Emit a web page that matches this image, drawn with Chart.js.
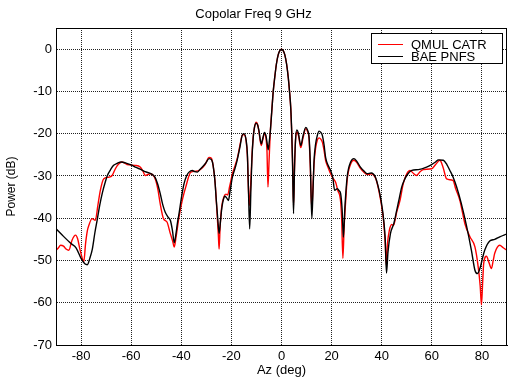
<!DOCTYPE html>
<html>
<head>
<meta charset="utf-8">
<script src="https://cdn.jsdelivr.net/npm/chart.js@4/dist/chart.umd.min.js"></script>
<style>
html,body{margin:0;padding:0;background:#fff;}
#wrap{width:508px;height:381px;position:relative;}
</style>
</head>
<body>
<div id="wrap"><canvas id="c" width="508" height="381"></canvas></div>
<script>
const titleText = "Copolar Freq 9 GHz";
const xTitle = "Az (deg)";
const yTitle = "Power (dB)";
const xTicks = [-80, -60, -40, -20, 0, 20, 40, 60, 80];
const yTicks = [-70, -60, -50, -40, -30, -20, -10, 0];

const seriesNames = ["QMUL CATR", "BAE PNFS"];

const qmulAz = [-90,-89,-88.2,-87,-86,-84.9,-83.6,-82.2,-81.4,-80.4,-79.5,-78.9,-78.2,-77.5,-76.9,-75.6,-74.3,-73.3,-72.3,-71,-69,-67.6,-66.3,-65,-63.6,-62.5,-61.7,-58.4,-56.4,-55.2,-54.4,-52.4,-50.4,-49.4,-48.4,-47.1,-45.7,-44.4,-43.4,-42.8,-42.1,-40.9,-39.5,-38.2,-36.2,-34.2,-32.6,-30.5,-28.9,-28,-27.3,-26.5,-25.8,-25.2,-24.9,-24.5,-23.8,-23,-22.2,-21.5,-20.7,-19.6,-18.5,-17.5,-16.5,-15.7,-15,-14.1,-13.6,-13.2,-12.8,-12.3,-11.8,-11.3,-10.7,-10.1,-9.5,-9,-8.1,-7.5,-6.8,-6.2,-5.8,-5.4,-5.0,-4.5,-3.8,-3.3,-2.7,-2,-1.3,-0.6,0,0.6,1.3,2,2.7,3.2,3.7,4.1,4.4,4.8,5.2,5.6,6.1,6.8,7.7,8.6,9.7,10.4,11,11.5,12.1,12.6,13,13.6,14.3,15,15.7,16.3,17,17.6,18.6,19.6,20.5,21.6,22.5,23.5,24,24.5,25,25.5,26.2,27.6,28.9,30,31.5,33,34.2,35.8,37.5,38.5,39.5,40.3,40.8,41.4,41.8,42.3,43,44,44.7,46,47.3,48.6,50,51.3,52.5,53.9,55.3,56.6,59.9,61.5,63.2,64.5,65.9,68.5,69.5,71.2,73.2,75.2,77.2,78.5,79.3,79.8,80.3,80.7,81.8,82.8,83.8,84.5,85.1,87.1,88.5,90];
const qmulDb = [-47.6,-47,-46.4,-46.6,-47.3,-47.6,-45.2,-44,-44.8,-47.5,-49.5,-50.3,-46,-43,-41.7,-40.1,-40.5,-37,-33.4,-30.7,-30.3,-29.9,-28.3,-27.2,-26.7,-27,-27.3,-27.5,-27.9,-29,-29.9,-29.5,-30.7,-33,-36.6,-40.1,-40.9,-43.6,-45.5,-46.8,-44.5,-39.7,-35.5,-32.6,-29.1,-28.9,-28.6,-27.3,-25.6,-25.8,-27.5,-31.5,-38,-44,-47.3,-42,-37,-35,-34.3,-34.5,-32.5,-29.5,-27.5,-25.5,-22.5,-20.4,-20.2,-21.8,-25.5,-33,-37,-32,-25.5,-20.8,-18.3,-17.3,-17.9,-19.5,-22.8,-21.5,-20,-21,-24,-32.6,-27,-20,-14,-10,-6.7,-3.4,-1.3,-0.3,0,-0.3,-1.3,-3.4,-6.7,-10,-14,-20,-26,-37,-28,-21.5,-19.6,-20.5,-23.3,-21,-18.8,-19.5,-21.2,-28,-38,-32,-27,-23.5,-21.5,-21,-21.3,-22,-24,-26.3,-28,-29.5,-30.5,-31.5,-33.5,-35.5,-40,-49.5,-42,-37,-31,-27.2,-26.3,-26.8,-28.2,-29.2,-29.7,-29.5,-30.5,-32.5,-35.5,-38.5,-41,-46,-51,-46,-43,-41.5,-41.7,-38.5,-35.8,-31.8,-29.5,-28.7,-29.3,-29.9,-29,-28.5,-28.3,-27.3,-26.3,-28,-30.7,-31.1,-33,-35.8,-41.3,-44.4,-46.8,-51.5,-56,-60.5,-55,-50.7,-49,-50.5,-51.9,-50,-48.3,-46.4,-47,-47.6];

const baeAz = [-90,-87,-84,-82,-80,-78.5,-77.5,-76.5,-75.5,-74.5,-73.5,-72.5,-71.5,-70.5,-69.5,-68,-67,-65.5,-64,-62.3,-60,-58,-56,-54.4,-52,-50.5,-49.5,-48.4,-47.4,-46.4,-45.2,-44.3,-43.5,-42.8,-42.2,-41.5,-40.9,-39.9,-38.9,-37.9,-36.9,-35.6,-34.6,-33.6,-32.6,-31.6,-30.3,-28.9,-27.9,-27.3,-26.6,-26,-25.4,-24.9,-24.4,-23.8,-23.2,-22.6,-21.9,-21.2,-20.5,-19.6,-18.6,-17.7,-16.7,-15.7,-15,-14.1,-13.6,-13.2,-12.7,-12.2,-11.8,-11.3,-10.8,-10.1,-9.5,-9,-8.1,-7.5,-6.8,-6.2,-5.7,-5.3,-4.9,-4.4,-3.8,-3.3,-2.7,-2,-1.3,-0.6,0,0.6,1.3,2,2.7,3.2,3.7,4.1,4.4,4.8,5.2,5.6,6.1,6.7,7.7,8.6,9.7,10.4,11,11.5,12.1,12.6,13,13.6,14.3,15,15.7,16.3,17,17.6,18.6,19.6,20.5,21.2,22.3,23,23.6,24.2,24.7,25.3,26.2,27.6,28.9,30,31.5,33,34.2,35.8,37.5,38.5,39.5,40.3,40.8,41.4,41.9,42.5,43.5,44.8,46,47,48,49,50,52,54.6,57.9,59.9,61.5,62.6,64.6,66,67.2,68.5,69.9,71.8,73.8,75.8,77.2,78.2,79.4,80.2,81.1,83.1,85.1,87.1,90];
const baeDb = [-42.5,-44.3,-46,-47,-49.5,-50.8,-51,-49.5,-47.3,-43.5,-40.2,-36.8,-34,-31.8,-29.9,-28.3,-27.5,-27,-26.7,-26.9,-27.4,-28,-28.5,-29,-29.5,-30.3,-31.8,-34.2,-36.8,-38.6,-39.8,-40.6,-43,-45.8,-44,-41,-38.9,-35,-31.8,-30,-29.1,-28.7,-29,-29.1,-28.5,-27.9,-27,-25.9,-26.2,-27.5,-31,-36,-40.5,-43.6,-41,-37.5,-35.6,-34.8,-35.2,-35.8,-33.5,-30.3,-28.3,-26.3,-23.5,-20.4,-20,-21.6,-25,-33,-42.5,-33,-26,-21,-18.5,-17.5,-18,-19.3,-22.4,-21.2,-19.7,-20.5,-22.4,-23.8,-22,-19,-14,-10,-6.7,-3.4,-1.3,-0.3,0,-0.3,-1.3,-3.4,-6.7,-10,-14,-20,-27,-38.9,-28,-21.5,-19.1,-19.8,-22.8,-20.5,-18.5,-19.2,-20.8,-27,-40.1,-33,-26.3,-22.5,-20.4,-19.4,-19.7,-20.4,-22.7,-25.6,-27.5,-28.7,-30.5,-33.4,-33,-33.5,-34.2,-38,-44.5,-37.5,-30.3,-26.7,-25.9,-26.5,-27.9,-28.9,-29.5,-29.3,-30.3,-32.3,-35,-38,-40.5,-45,-53,-48,-43.6,-41.3,-38.1,-35.3,-32.6,-31,-29.9,-28.7,-28.5,-27.9,-27.3,-26.7,-26.2,-26.3,-27.3,-28.7,-30.3,-32.6,-36.6,-41.7,-47.6,-52.3,-53.1,-51.5,-49.5,-47.6,-45.4,-45,-44.4,-43.7];

const toPts = (xs, ys) => xs.map((x, i) => ({x: x, y: ys[i]}));

const FONT = "'Liberation Sans', Arial, Helvetica, sans-serif";

const framePlugin = {
  id: 'frame',
  afterDraw(chart) {
    const {ctx, chartArea: a} = chart;
    ctx.save();
    ctx.strokeStyle = '#000';
    ctx.lineWidth = 1;
    ctx.strokeRect(Math.round(a.left) + 0.5, Math.round(a.top) + 0.5,
                   Math.round(a.right - a.left) - 1, Math.round(a.bottom - a.top));
    const bx = 371.5, by = 33.5, bw = 131, bh = 30;
    ctx.fillStyle = '#fff';
    ctx.fillRect(bx, by, bw, bh);
    ctx.strokeRect(bx, by, bw, bh);
    ctx.font = "13px " + FONT;
    ctx.textBaseline = 'middle';
    ctx.textAlign = 'left';
    chart.data.datasets.slice().sort((p, q) => p.legendIdx - q.legendIdx).forEach((ds, i) => {
      const y = 44 + i * 12;
      ctx.strokeStyle = ds.borderColor;
      ctx.lineWidth = 1;
      ctx.beginPath();
      ctx.moveTo(378, y + 0.5);
      ctx.lineTo(403, y + 0.5);
      ctx.stroke();
      ctx.fillStyle = '#000';
      ctx.fillText(ds.label, 411, y + 1);
    });
    ctx.restore();
  }
};

new Chart(document.getElementById('c'), {
  type: 'line',
  data: {
    datasets: [
      {
        label: seriesNames[0], legendIdx: 0,
        data: toPts(qmulAz, qmulDb),
        borderColor: '#ff0000', borderWidth: 1.4,
        pointRadius: 0, cubicInterpolationMode: 'monotone', order: 1
      },
      {
        label: seriesNames[1], legendIdx: 1,
        data: toPts(baeAz, baeDb),
        borderColor: '#000000', borderWidth: 1.4,
        pointRadius: 0, cubicInterpolationMode: 'monotone', order: 0
      }
    ]
  },
  options: {
    responsive: false,
    animation: false,
    events: [],
    layout: {padding: {left: 0, right: 1, top: 0, bottom: 0}},
    plugins: {
      legend: {display: false},
      tooltip: {enabled: false},
      title: {
        display: true, text: titleText, color: '#000',
        font: {family: FONT, size: 13, weight: 'normal'},
        padding: {top: 7, bottom: 5.4}
      }
    },
    scales: {
      x: {
        type: 'linear', min: -90, max: 90,
        afterBuildTicks: s => { s.ticks = xTicks.map(v => ({value: v})); },
        afterFit: s => { s.height = 36; },
        ticks: {color: '#000', font: {family: FONT, size: 13}, padding: 4, maxRotation: 0, autoSkip: false},
        grid: {color: '#222', drawTicks: false, lineWidth: 1},
        border: {display: true, color: '#000', dash: [1, 1]},
        title: {display: true, text: xTitle, color: '#000', font: {family: FONT, size: 13}, padding: {top: 0, bottom: 2.5}}
      },
      y: {
        type: 'linear', min: -70, max: 5,
        afterBuildTicks: s => { s.ticks = yTicks.map(v => ({value: v})); },
        afterFit: s => { s.width = 56; },
        ticks: {color: '#000', font: {family: FONT, size: 13}, padding: 4, autoSkip: false},
        grid: {color: '#222', drawTicks: false, lineWidth: 1},
        border: {display: true, color: '#000', dash: [1, 1]},
        title: {display: true, text: yTitle, color: '#000', font: {family: FONT, size: 12}, padding: {top: 4, bottom: 0}}
      }
    }
  },
  plugins: [framePlugin]
});
</script>
</body>
</html>
